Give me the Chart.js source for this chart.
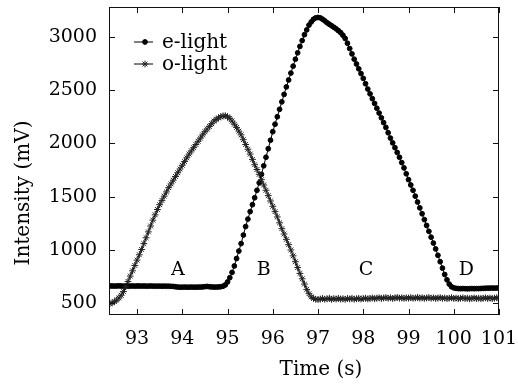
<!DOCTYPE html>
<html>
<head>
<meta charset="utf-8">
<script src="https://cdn.jsdelivr.net/npm/chart.js@4.4.1/dist/chart.umd.min.js"></script>
<style>
  body { margin: 0; background: #fff; }
  #wrap { width: 518px; height: 385px; }
</style>
</head>
<body>
<div id="wrap"><canvas id="myChart" width="518" height="385"></canvas></div>
<script>
// sample times (s)
const time = [
  92.40, 92.45, 92.50, 92.55, 92.60, 92.65, 92.70, 92.75, 92.80, 92.85,
  92.90, 92.95, 93.00, 93.05, 93.10, 93.15, 93.20, 93.25, 93.30, 93.35,
  93.40, 93.45, 93.50, 93.55, 93.60, 93.65, 93.70, 93.75, 93.80, 93.85,
  93.90, 93.95, 94.00, 94.05, 94.10, 94.15, 94.20, 94.25, 94.30, 94.35,
  94.40, 94.45, 94.50, 94.55, 94.60, 94.65, 94.70, 94.75, 94.80, 94.85,
  94.90, 94.95, 95.00, 95.05, 95.10, 95.15, 95.20, 95.25, 95.30, 95.35,
  95.40, 95.45, 95.50, 95.55, 95.60, 95.65, 95.70, 95.75, 95.80, 95.85,
  95.90, 95.95, 96.00, 96.05, 96.10, 96.15, 96.20, 96.25, 96.30, 96.35,
  96.40, 96.45, 96.50, 96.55, 96.60, 96.65, 96.70, 96.75, 96.80, 96.85,
  96.90, 96.95, 97.00, 97.05, 97.10, 97.15, 97.20, 97.25, 97.30, 97.35,
  97.40, 97.45, 97.50, 97.55, 97.60, 97.65, 97.70, 97.75, 97.80, 97.85,
  97.90, 97.95, 98.00, 98.05, 98.10, 98.15, 98.20, 98.25, 98.30, 98.35,
  98.40, 98.45, 98.50, 98.55, 98.60, 98.65, 98.70, 98.75, 98.80, 98.85,
  98.90, 98.95, 99.00, 99.05, 99.10, 99.15, 99.20, 99.25, 99.30, 99.35,
  99.40, 99.45, 99.50, 99.55, 99.60, 99.65, 99.70, 99.75, 99.80, 99.85,
  99.90, 99.95, 100.00, 100.05, 100.10, 100.15, 100.20, 100.25, 100.30, 100.35,
  100.40, 100.45, 100.50, 100.55, 100.60, 100.65, 100.70, 100.75, 100.80, 100.85,
  100.90, 100.95, 101.00
];

// intensity (mV)
const eLight = [
  662, 662, 661, 662, 663, 662, 661, 662, 662, 661,
  662, 661, 662, 662, 661, 662, 661, 661, 662, 661,
  661, 660, 661, 660, 661, 660, 660, 659, 658, 655,
  652, 651, 651, 652, 651, 651, 652, 651, 651, 652,
  652, 653, 656, 658, 655, 653, 652, 652, 653, 655,
  660, 672, 700, 740, 790, 850, 920, 990, 1060, 1140,
  1220, 1290, 1360, 1425, 1490, 1560, 1630, 1710, 1790, 1870,
  1950, 2030, 2110, 2180, 2250, 2320, 2390, 2460, 2530, 2595,
  2660, 2725, 2790, 2850, 2910, 2965, 3020, 3065, 3110, 3140,
  3165, 3178, 3182, 3178, 3165, 3150, 3132, 3118, 3104, 3090,
  3075, 3058, 3040, 3015, 2985, 2940, 2890, 2840, 2790, 2745,
  2700, 2655, 2610, 2560, 2510, 2465, 2420, 2375, 2330, 2285,
  2240, 2195, 2150, 2100, 2050, 2005, 1960, 1915, 1870, 1820,
  1770, 1715, 1660, 1610, 1560, 1505, 1450, 1395, 1340, 1285,
  1230, 1175, 1120, 1065, 1010, 950, 890, 830, 770, 720,
  680, 655, 645, 640, 638, 637, 638, 637, 636, 637,
  638, 637, 638, 638, 639, 640, 641, 642, 642, 643,
  642, 643, 644
];

const oLight = [
  495, 505, 515, 530, 550, 575, 610, 655, 705, 755,
  805, 855, 905, 955, 1005, 1060, 1115, 1170, 1225, 1280,
  1330, 1380, 1425, 1465, 1505, 1545, 1585, 1620, 1655, 1690,
  1725, 1760, 1795, 1830, 1865, 1900, 1930, 1960, 1990, 2020,
  2050, 2080, 2110, 2135, 2160, 2185, 2210, 2225, 2240, 2250,
  2258, 2260, 2250, 2235, 2210, 2180, 2150, 2115, 2080, 2035,
  1990, 1945, 1900, 1850, 1800, 1755, 1710, 1660, 1610, 1560,
  1510, 1460, 1410, 1360, 1310, 1255, 1200, 1150, 1100, 1050,
  1000, 945, 890, 835, 780, 730, 680, 630, 590, 560,
  545, 538, 535, 540, 545, 538, 542, 548, 536, 544,
  540, 546, 539, 543, 537, 545, 541, 547, 538, 542,
  546, 540, 544, 548, 541, 545, 550, 543, 547, 552,
  545, 549, 554, 547, 551, 545, 550, 555, 548, 552,
  546, 551, 549, 553, 547, 550, 555, 548, 552, 546,
  550, 554, 547, 551, 545, 549, 553, 546, 550, 544,
  548, 552, 545, 549, 543, 547, 551, 544, 548, 542,
  546, 550, 544, 548, 543, 547, 551, 545, 549, 544,
  548, 552, 546
];

const xTicks = [93, 94, 95, 96, 97, 98, 99, 100, 101];
const yTicks = [500, 1000, 1500, 2000, 2500, 3000];

// region letters and where they sit
const regionNames = ['A', 'B', 'C', 'D'];
const regionTimes = [93.9, 95.8, 98.06, 100.28];
const regionLevel = 812;

const serif = "'DejaVu Serif', 'Liberation Serif', serif";
Chart.defaults.font.family = serif;
Chart.defaults.font.size = 19;
Chart.defaults.color = '#000';

const toPoints = vals => vals.map((v, i) => ({ x: time[i], y: v }));

// frame, inward ticks, legend, region letters, axis titles
const decorations = {
  id: 'decorations',
  afterDraw(chart) {
    const { ctx, chartArea: a, scales: { x, y } } = chart;
    ctx.save();
    ctx.strokeStyle = '#111';
    ctx.lineWidth = 1;
    ctx.strokeRect(a.left + 0.5, a.top + 0.5, a.right - a.left - 1, a.bottom - a.top - 1);

    ctx.beginPath();
    xTicks.forEach(v => {
      const px = Math.round(x.getPixelForValue(v)) + 0.5;
      ctx.moveTo(px, a.bottom); ctx.lineTo(px, a.bottom - 6);
      ctx.moveTo(px, a.top); ctx.lineTo(px, a.top + 6);
    });
    yTicks.forEach(v => {
      const py = Math.round(y.getPixelForValue(v)) + 0.5;
      ctx.moveTo(a.left, py); ctx.lineTo(a.left + 6, py);
      ctx.moveTo(a.right, py); ctx.lineTo(a.right - 6, py);
    });
    ctx.stroke();

    // region letters
    ctx.fillStyle = '#000';
    ctx.font = '19px ' + serif;
    ctx.textAlign = 'center';
    ctx.textBaseline = 'middle';
    regionNames.forEach((n, i) => {
      ctx.fillText(n, x.getPixelForValue(regionTimes[i]), y.getPixelForValue(regionLevel));
    });

    // legend
    ctx.font = '20px ' + serif;
    ctx.textAlign = 'left';
    ctx.textBaseline = 'alphabetic';
    chart.data.datasets.forEach((ds, i) => {
      const ly = a.top + 35 + i * 22;
      ctx.strokeStyle = '#000';
      ctx.lineWidth = 1;
      ctx.beginPath();
      ctx.moveTo(a.left + 25, ly); ctx.lineTo(a.left + 44, ly);
      ctx.stroke();
      ctx.fillStyle = ds.pointBackgroundColor;
      ctx.strokeStyle = ds.pointBorderColor;
      ctx.lineWidth = ds.pointBorderWidth;
      Chart.helpers.drawPoint(ctx, {
        pointStyle: ds.pointStyle, radius: ds.pointRadius, rotation: 0, borderWidth: ds.pointBorderWidth
      }, a.left + 36, ly);
      ctx.fillStyle = '#000';
      ctx.fillText(ds.label, a.left + 53, ly + 5.5);
    });

    // axis titles
    ctx.font = '20px ' + serif;
    ctx.textAlign = 'center';
    ctx.fillText('Time (s)', 321, 375);
    ctx.translate(29, 193);
    ctx.rotate(-Math.PI / 2);
    ctx.fillText('Intensity (mV)', 0, 0);
    ctx.restore();
  }
};

const ctx = document.getElementById('myChart').getContext('2d');
const myChart = new Chart(ctx, {
  type: 'line',
  data: {
    datasets: [{
      label: 'e-light',
      data: toPoints(eLight),
      borderColor: '#000',
      borderWidth: 1,
      pointStyle: 'circle',
      pointRadius: 2.4,
      pointBackgroundColor: '#000',
      pointBorderColor: '#000',
      pointBorderWidth: 1,
      order: 1
    }, {
      label: 'o-light',
      data: toPoints(oLight),
      borderColor: '#000',
      borderWidth: 1,
      pointStyle: 'star',
      pointRadius: 3.4,
      pointBackgroundColor: '#222',
      pointBorderColor: '#222',
      pointBorderWidth: 1,
      order: 0
    }]
  },
  options: {
    responsive: false,
    animation: false,
    devicePixelRatio: 1,
    layout: { padding: { top: 7, right: 19, left: 0, bottom: 0 } },
    plugins: {
      legend: { display: false },
      tooltip: { enabled: false }
    },
    scales: {
      x: {
        type: 'linear',
        min: 92.38,
        max: 101.0,
        grid: { display: false, drawTicks: false },
        border: { display: false },
        afterBuildTicks: s => { s.ticks = xTicks.map(v => ({ value: v })); },
        afterFit: s => { s.height = 70; s.paddingLeft = 0; s.paddingRight = 0; },
        ticks: { padding: 13, color: '#000', font: { size: 19 }, maxRotation: 0, autoSkip: false }
      },
      y: {
        min: 390,
        max: 3280,
        grid: { display: false, drawTicks: false },
        border: { display: false },
        afterBuildTicks: s => { s.ticks = yTicks.map(v => ({ value: v })); },
        afterFit: s => { s.width = 109; s.paddingTop = 0; s.paddingBottom = 0; },
        ticks: { padding: 12, color: '#000', font: { size: 19 }, callback: v => String(v) }
      }
    }
  },
  plugins: [decorations]
});
</script>
</body>
</html>
